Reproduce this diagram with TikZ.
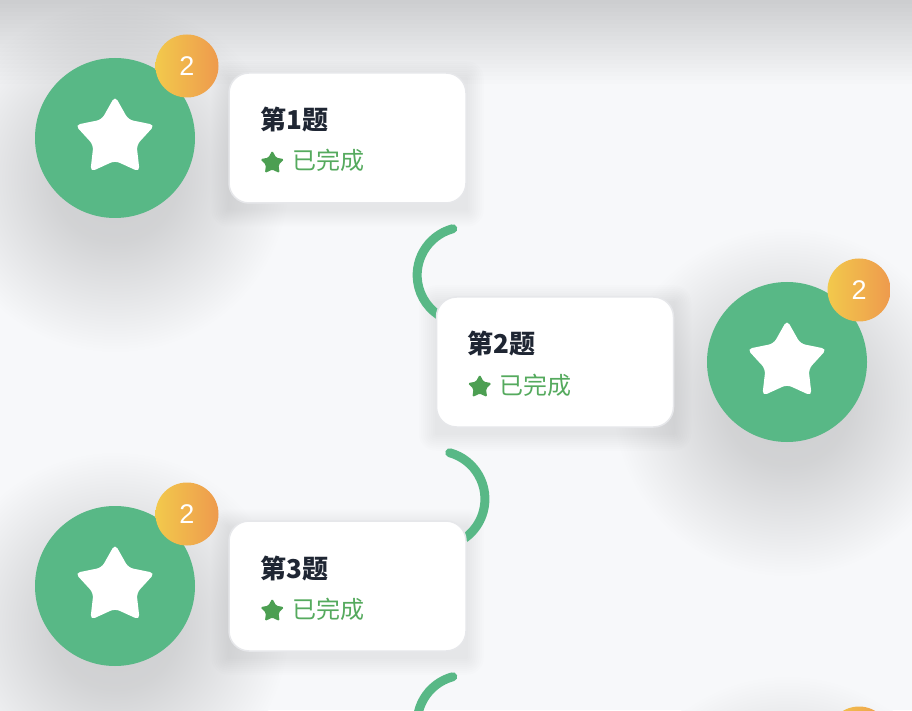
\documentclass[tikz,border=0pt]{standalone}
\usepackage{fontspec}
\newfontfamily\cjk{Noto Sans CJK SC}
\newfontfamily\numfont{Liberation Sans}
\usepackage{xcolor}
\usepackage{tikz}
\usetikzlibrary{shapes.geometric}
\usetikzlibrary{backgrounds}
\definecolor{bgc}{HTML}{F7F8FA}
\definecolor{medalgreen}{HTML}{58B886}
\definecolor{badgeleft}{HTML}{F2C94C}
\definecolor{badgeright}{HTML}{EE9A4D}
\definecolor{titleink}{HTML}{1F2633}
\definecolor{doneink}{HTML}{55AA5E}
\definecolor{donestar}{HTML}{4C9F52}
\definecolor{cardline}{HTML}{E6E7EA}
\pgfdeclareradialshading{medalshadow}{\pgfpointorigin}{color(0bp)=(black!17!bgc); color(9bp)=(black!15!bgc); color(25bp)=(bgc); color(50bp)=(bgc)}
\tikzset{
medal/.style={circle, fill=medalgreen, minimum size=160pt, inner sep=0pt},
bigstar/.style={star, star points=5, star point ratio=1.85, fill=white,
  minimum size=84pt, inner sep=0pt, rounded corners=5pt},
badge/.style={circle, left color=badgeleft, right color=badgeright,
  minimum size=63pt, inner sep=0pt, text=white,
  font=\numfont\fontsize{27}{30}\selectfont},
card/.style={rectangle, rounded corners=20pt, fill=white, draw=cardline,
  line width=1.5pt, minimum width=237pt, minimum height=130pt},
cardtitle/.style={anchor=base west, inner sep=0pt, text=titleink,
  font=\cjk\bfseries\fontsize{26}{30}\selectfont},
cardstate/.style={anchor=base west, inner sep=0pt, text=doneink,
  font=\cjk\fontsize{24}{28}\selectfont},
smallstar/.style={star, star points=5, star point ratio=1.9, fill=donestar,
  minimum size=25pt, inner sep=0pt, rounded corners=1.5pt},
link/.style={medalgreen, line width=9pt, line cap=round},
}

\begin{document}
\begin{tikzpicture}[x=1pt,y=1pt]
\useasboundingbox (0,0) rectangle (912,710);
\clip (0,0) rectangle (912,710);
% the rows
\foreach \i/\mx/\cx/\y in {1/115/347.5/572, 2/787/555/348, 3/115/347.5/124}
{
  \node[card] (card-\i) at (\cx,\y) {};
  \node[cardtitle] (title-\i) at ([xshift=32pt,yshift=8pt]card-\i.west) {第\i{}题};
  \node[smallstar] (mark-\i) at ([xshift=44pt,yshift=-25pt]card-\i.west) {};
  \node[cardstate] (state-\i) at ([xshift=64pt,yshift=-32pt]card-\i.west) {已完成};
  \node[medal] (medal-\i) at (\mx,\y) {};
  \node[bigstar] (star-\i) at (medal-\i.center) {};
  \node[badge] (badge-\i) at ([shift={(72pt,72pt)}]medal-\i.center) {2};
}
\node[badge] (badge-4) at (859,-28) {};
% the shadows and the links
\begin{scope}[on background layer]
\fill[bgc] (0,0) rectangle (912,710);
\foreach \i in {1,2,3}
  \shade[shading=medalshadow] ([yshift=-40pt]medal-\i.center) circle (175pt);
\shade[shading=medalshadow] (787,-140) circle (175pt);
% the band at the top
\foreach \h in {4,8,...,84}
  \fill[black, opacity=0.008] (0,710-\h) rectangle (912,710);
\foreach \i in {1,2,3}
  \foreach \s [evaluate=\s as \r using 20+\s] in {1,3,...,17}
    \fill[black, opacity=0.007, rounded corners=\r pt]
      ([shift={(-\s,-\s-6)}]card-\i.south west) rectangle ([shift={(\s,\s-6)}]card-\i.north east);
\draw[link] ([shift={(-14,-25)}]card-1.south east) arc[start angle=105, end angle=250, radius=48pt];
\draw[link] ([shift={(14,-25)}]card-2.south west) arc[start angle=74.5, end angle=-110, radius=48pt];
\draw[link] ([shift={(-14,-25)}]card-3.south east) arc[start angle=105, end angle=250, radius=48pt];
\end{scope}
\end{tikzpicture}
\end{document}
